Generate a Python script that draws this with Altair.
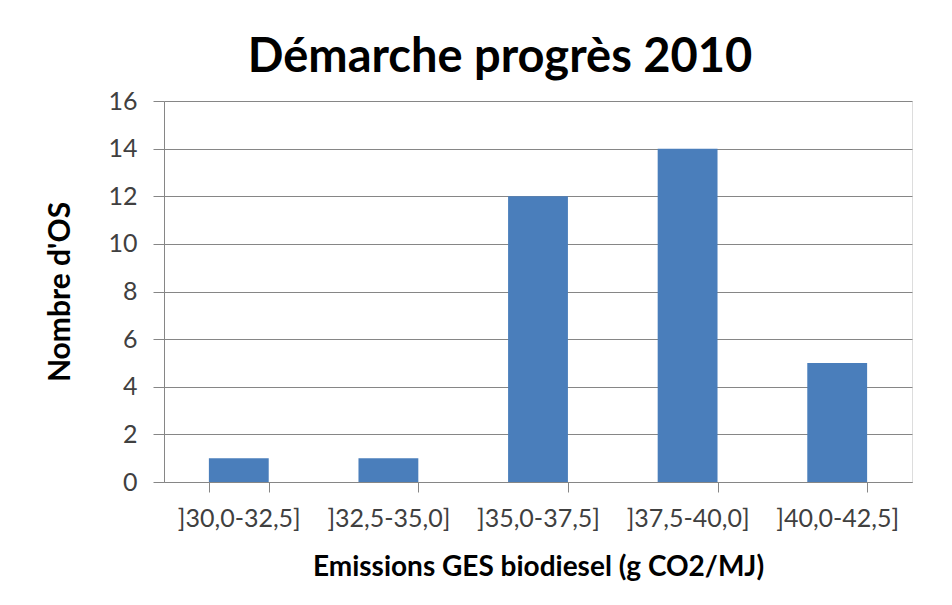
import altair as alt
import pandas as pd

categories = ["]30,0-32,5]", "]32,5-35,0]", "]35,0-37,5]", "]37,5-40,0]", "]40,0-42,5]"]
counts = [1, 1, 12, 14, 5]
y_ticks = [0, 2, 4, 6, 8, 10, 12, 14, 16]

df = pd.DataFrame({"cat": categories, "n": counts})

FONT = "Lato"
GRID = "#868686"

chart = alt.Chart(df).mark_bar(color="#4A7EBB").encode(
    x=alt.X(
        "cat:N",
        sort=categories,
        scale=alt.Scale(paddingInner=0.6, paddingOuter=0.3),
        axis=alt.Axis(
            title="Emissions GES biodiesel (g CO2/MJ)",
            labelAngle=0,
            tickBand="extent",
            tickSize=10,
            tickColor=GRID,
            domainColor=GRID,
            labelPadding=14,
            labelFontSize=25,
            labelColor="#404040",
            labelFont=FONT,
            titleFont=FONT,
            titleFontSize=28,
            titleFontWeight="bold",
            titleColor="#000000",
            titlePadding=22,
            grid=False,
        ),
    ),
    y=alt.Y(
        "n:Q",
        scale=alt.Scale(domain=[0, 16], nice=False),
        axis=alt.Axis(
            title="Nombre d'OS",
            values=y_ticks,
            tickSize=11,
            tickColor=GRID,
            domainColor=GRID,
            gridColor=GRID,
            labelPadding=16,
            labelFontSize=25,
            labelColor="#404040",
            labelFont=FONT,
            titleFont=FONT,
            titleFontSize=30,
            titleFontWeight="bold",
            titleColor="#000000",
            titlePadding=32,
        ),
    ),
).properties(
    width=748,
    height=381,
    title=alt.TitleParams(
        "Démarche progrès 2010",
        font=FONT,
        fontSize=47,
        fontWeight="bold",
        color="#000000",
        anchor="middle",
        dx=-38,
        offset=7,
    ),
    autosize=alt.AutoSizeParams(type="none"),
    padding={"left": 156, "top": 93, "right": 30, "bottom": 110},
).configure_view(stroke=None).configure(background="#FFFFFF")

chart.save("out.html", embed_options={"renderer": "svg", "actions": False})
